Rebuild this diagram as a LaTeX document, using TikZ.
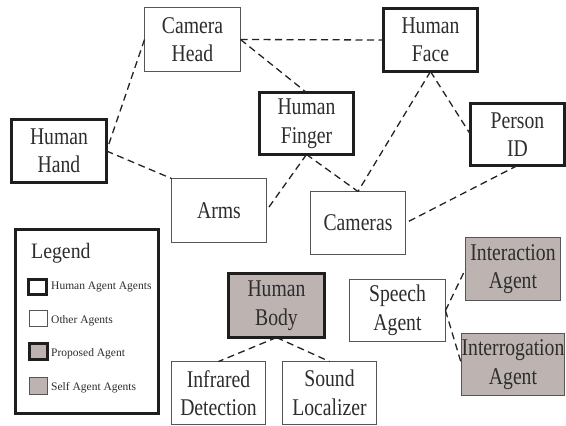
\documentclass[tikz,border=0pt]{standalone}
\usepackage{fontspec}
\setmainfont{Liberation Serif}
\newfontfamily\nodefont[FakeStretch=0.82]{Liberation Serif}
\newfontfamily\legfont[FakeStretch=0.9]{Liberation Serif}
\definecolor{txt}{RGB}{45,45,45}
\definecolor{thinc}{RGB}{85,85,85}
\definecolor{thickc}{RGB}{30,30,30}
\definecolor{linec}{RGB}{35,35,35}
\definecolor{agray}{RGB}{189,180,177}
\begin{document}
\begin{tikzpicture}[x=1pt,y=-1pt,
  base/.style={rectangle, inner sep=0pt, outer sep=0pt, align=center,
    font=\nodefont\fontsize{24}{28.5}\selectfont, text=txt},
  thinbox/.style={base, draw=thinc, line width=1pt, fill=white},
  thickbox/.style={base, draw=thickc, line width=3.2pt, fill=white},
  graybox/.style={thinbox, fill=agray},
  propbox/.style={thickbox, fill=agray},
  link/.style={draw=linec, line width=1.3pt, dash pattern=on 7pt off 4.5pt},
  legtext/.style={anchor=base west, inner sep=0pt, text=txt, font=\fontsize{11.5}{13}\selectfont},
  sq/.style={rectangle, inner sep=0pt}
]
\useasboundingbox (0,0) rectangle (566,426);

% main nodes
\node[thinbox, minimum width=96pt, minimum height=64pt] (camhead) at (192.5,39.5) {Camera\\Head};
\node[thickbox, minimum width=94pt, minimum height=63pt] (face) at (430.5,40) {Human\\Face};
\node[thickbox, minimum width=95pt, minimum height=63pt] (hand) at (59,151) {Human\\Hand};
\node[thickbox, minimum width=94pt, minimum height=62pt] (finger) at (306.5,123.5) {Human\\Finger};
\node[thickbox, minimum width=94pt, minimum height=62pt] (person) at (517.5,134.5) {Person\\ID};
\node[thinbox, minimum width=95pt, minimum height=64pt] (arms) at (219,210.5) {Arms};
\node[thinbox, minimum width=95pt, minimum height=63pt] (cameras) at (358,223) {Cameras};
\node[propbox, minimum width=96pt, minimum height=64pt] (body) at (276.5,305.5) {Human\\Body};
\node[thinbox, minimum width=94pt, minimum height=63pt] (infrared) at (218.5,393) {Infrared\\Detection};
\node[thinbox, minimum width=94pt, minimum height=63pt] (sound) at (329.5,393) {Sound\\Localizer};
\node[thinbox, minimum width=96pt, minimum height=62pt] (speech) at (397.5,310.5) {Speech\\Agent};
\node[graybox, minimum width=95pt, minimum height=63pt] (interaction) at (513,269) {Interaction\\Agent};
\node[graybox, minimum width=95pt, minimum height=62pt] (interrogation) at (513,364.5) {Interrogation\\Agent};

% legend
\node[thickbox, minimum width=143pt, minimum height=184pt] (legend) at (87,321.5) {};
\node[anchor=base west, inner sep=0pt, text=txt, font=\legfont\fontsize{22}{24}\selectfont] (legtitle) at (31,258) {Legend};
\node[sq, draw=thickc, line width=3pt, fill=white, minimum width=18pt, minimum height=15pt] (sqa) at (37.5,287) {};
\node[sq, draw=thinc, line width=1pt, fill=white, minimum width=18pt, minimum height=16pt] (sqb) at (38.5,318.5) {};
\node[sq, draw=thickc, line width=3pt, fill=agray, minimum width=18pt, minimum height=16pt] (sqc) at (38.5,351.5) {};
\node[sq, draw=thinc, line width=1pt, fill=agray, minimum width=18pt, minimum height=17pt] (sqd) at (38.5,386) {};
\node[legtext] (la) at (51,289) {Human Agent Agents};
\node[legtext] (lb) at (51,323) {Other Agents};
\node[legtext] (lc) at (51,356) {Proposed Agent};
\node[legtext] (ld) at (51,390) {Self Agent Agents};

% connectors
\draw[link] (camhead.west) -- (hand.east);
\draw[link] (hand.east) -- (arms.north west);
\draw[link] (camhead.east) -- (face.west);
\draw[link] (camhead.east) -- (finger.north);
\draw[link] (finger.south) -- (arms.east);
\draw[link] (finger.south) -- (cameras.north);
\draw[link] (face.south) -- (cameras.north);
\draw[link] (face.south) -- (person.west);
\draw[link] (person.south) -- (cameras.east);
\draw[link] (body.south) -- (infrared.north);
\draw[link] (body.south) -- (sound.north);
\draw[link] (speech.east) -- (interaction.west);
\draw[link] (speech.east) -- (interrogation.west);
\end{tikzpicture}
\end{document}
